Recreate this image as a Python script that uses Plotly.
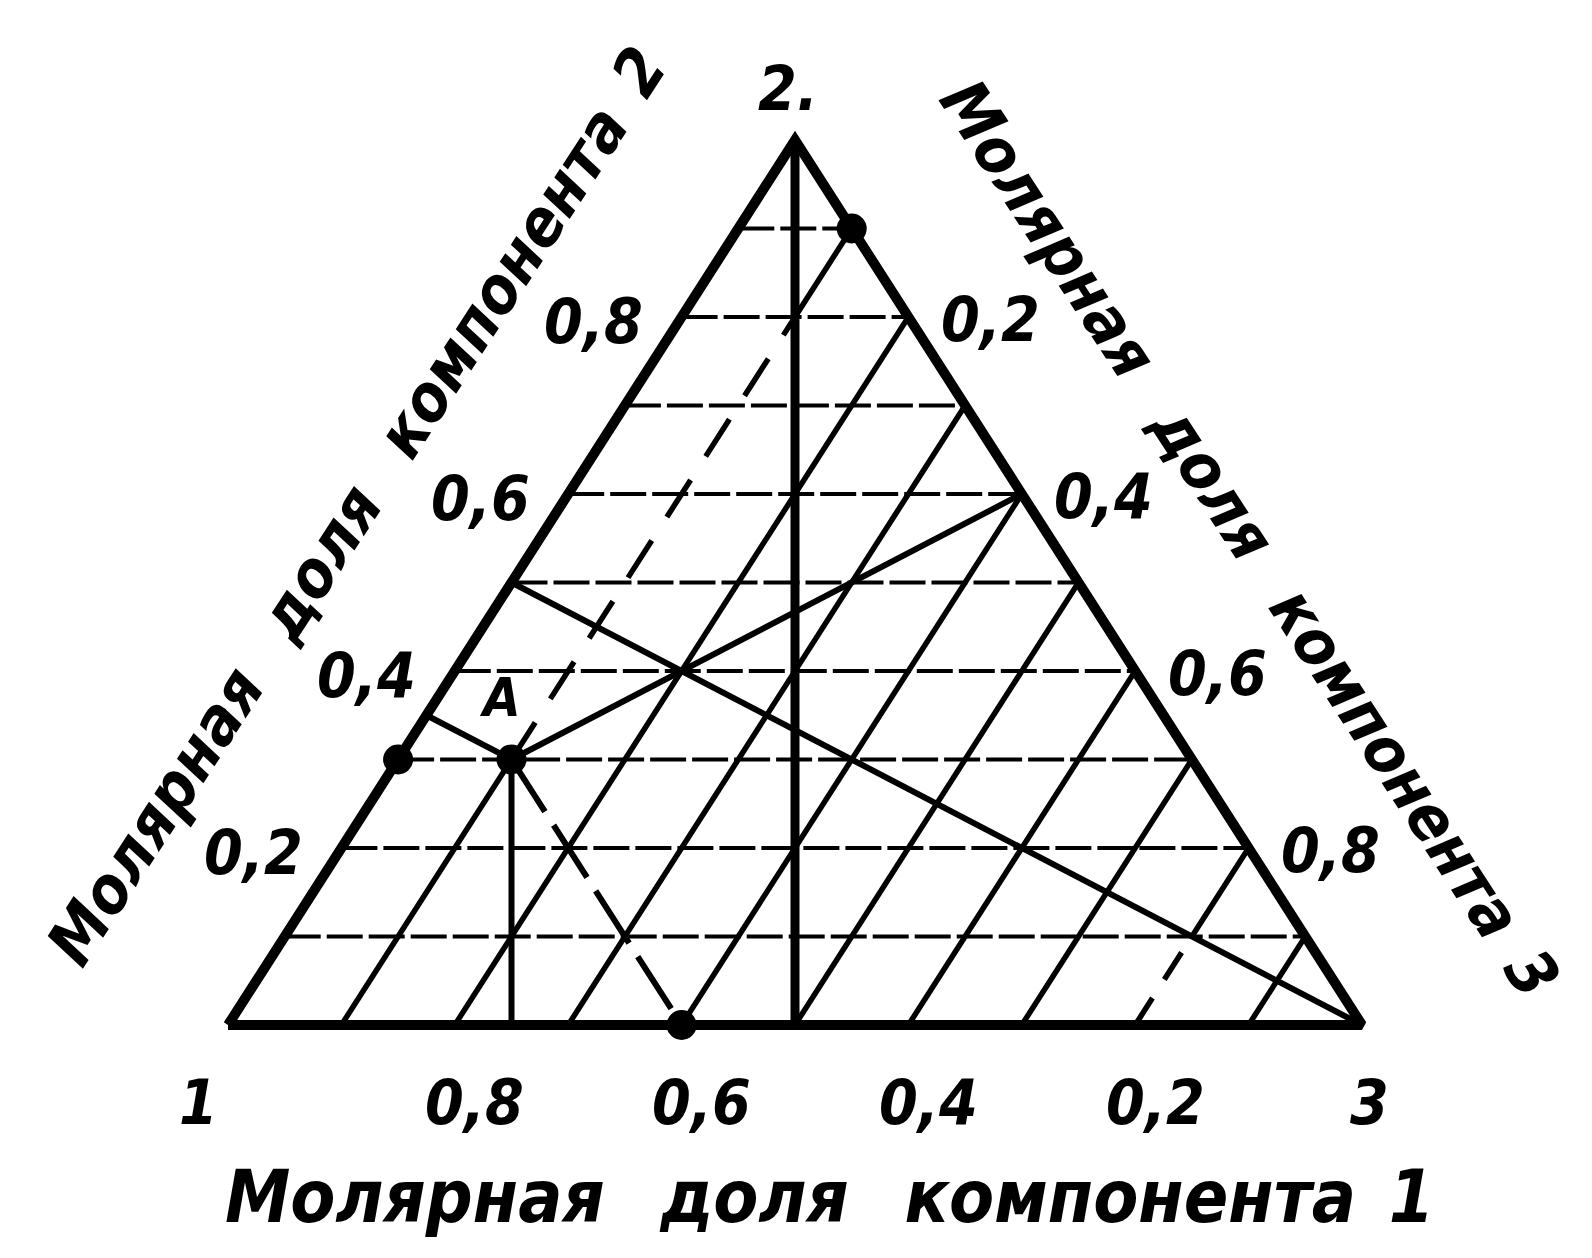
import plotly.graph_objects as go

# Compositions are molar fractions (x1, x2, x3) of components 1, 2, 3.
levels = [0.1, 0.2, 0.3, 0.4, 0.5, 0.6, 0.7, 0.8, 0.9]
tick_values = [0.2, 0.4, 0.6, 0.8]
tick_text = ["0,2", "0,4", "0,6", "0,8"]

vertices = [(1.0, 0.0, 0.0), (0.0, 1.0, 0.0), (0.0, 0.0, 1.0)]
vertex_names = ["1", "2.", "3"]

point_A = (0.6, 0.3, 0.1)
marked_points = [(0.7, 0.3, 0.0), (0.6, 0.3, 0.1), (0.6, 0.0, 0.4), (0.0, 0.9, 0.1)]
# perpendiculars dropped from A onto the three sides
feet_from_A = [(0.75, 0.0, 0.25), (0.65, 0.35, 0.0), (0.0, 0.6, 0.4)]
median_from_2 = [(0.0, 1.0, 0.0), (0.5, 0.0, 0.5)]
ray_from_3 = [(0.5, 0.5, 0.0), (0.0, 0.0, 1.0)]
x3_01_solid = [[(0.9, 0.0, 0.1), (0.6, 0.3, 0.1)], [(0.1, 0.8, 0.1), (0.0, 0.9, 0.1)]]
x3_01_dashed = [(0.6, 0.3, 0.1), (0.1, 0.8, 0.1)]
x3_08_dashed = [(0.2, 0.0, 0.8), (0.1, 0.1, 0.8)]
x3_08_solid = [(0.1, 0.1, 0.8), (0.0, 0.2, 0.8)]
x1_06_dashed = [(0.6, 0.3, 0.1), (0.6, 0.0, 0.4)]

title_words = ["Молярная", "доля", "компонента"]
component_ids = ["1", "2", "3"]

FONT = "DejaVu Sans Condensed, DejaVu Sans, sans-serif"
INK = "black"
WIDE_GAP = "\u2002\u00a0"
SHORT_GAP = "\u2002"


def xy(p):
    """Map a composition (x1, x2, x3) onto plane coordinates of the triangle."""
    x1, x2, x3 = p
    return x3 + 0.5 * x2, x2


fig = go.Figure()


def seg(points, width, dash="solid"):
    xs, ys = zip(*[xy(p) for p in points])
    fig.add_trace(go.Scatter(x=list(xs), y=list(ys), mode="lines",
                             line=dict(color=INK, width=width, dash=dash),
                             hoverinfo="skip", showlegend=False))


# horizontal grid lines: constant x2
for c in levels:
    seg([(1 - c, c, 0.0), (0.0, c, 1 - c)], 4, "36px,6px")

# inclined grid lines: constant x3
for c in levels:
    if c in (0.1, 0.8):
        continue
    seg([(1 - c, 0.0, c), (0.0, 1 - c, c)], 5.5)
for part in x3_01_solid:
    seg(part, 5.5)
seg(x3_01_dashed, 5.5, "44px,28px")
seg(x3_08_dashed, 5.5, "32px,22px")
seg(x3_08_solid, 5.5)

# constructions
seg(median_from_2, 9)
seg(ray_from_3, 6)
for f in feet_from_A:
    seg([point_A, f], 6)
seg(x1_06_dashed, 6, "62px,16px")

# triangle sides
seg(vertices + [vertices[0]], 10)

mx, my = zip(*[xy(p) for p in marked_points])
fig.add_trace(go.Scatter(x=list(mx), y=list(my), mode="markers",
                         marker=dict(color=INK, size=30),
                         hoverinfo="skip", showlegend=False))

ann = []
tick_font = dict(family=FONT, size=62, color=INK, style="italic", weight="bold")
for v, t in zip(tick_values, tick_text):
    bx, by = xy((v, 0.0, 1 - v))
    ann.append(dict(x=bx, y=by, text=t, xshift=20, yshift=-77, font=tick_font))
    lx, ly = xy((1 - v, v, 0.0))
    ann.append(dict(x=lx, y=ly, text=t, xshift=-88, yshift=-4, font=tick_font))
    rx, ry = xy((0.0, 1 - v, v))
    ann.append(dict(x=rx, y=ry, text=t, xshift=82, yshift=-2, font=tick_font))

vshift = [(-30, -77), (-7, 52), (7, -77)]
for p, name, (dx, dy) in zip(vertices, vertex_names, vshift):
    vx, vy = xy(p)
    ann.append(dict(x=vx, y=vy, text=name, xshift=dx, yshift=dy, font=tick_font))

ax_, ay_ = xy(point_A)
ann.append(dict(x=ax_, y=ay_, text="A", xshift=-12, yshift=62,
                font=dict(family=FONT, size=54, color=INK, style="italic",
                          weight="bold")))


def title(cid):
    return WIDE_GAP.join(title_words) + SHORT_GAP + cid


bottom_font = dict(family=FONT, size=73, color=INK, style="italic", weight="bold")
side_font = dict(family=FONT, size=65, color=INK, style="italic", weight="bold")
ann.append(dict(xref="paper", yref="paper", x=830 / 1592, y=1 - 1196 / 1258,
                text=title(component_ids[0]), textangle=0, font=bottom_font))
ann.append(dict(xref="paper", yref="paper", x=356 / 1592, y=1 - 506 / 1258,
                text=title(component_ids[1]), textangle=-57, font=side_font))
ann.append(dict(xref="paper", yref="paper", x=1250 / 1592, y=1 - 538 / 1258,
                text=title(component_ids[2]), textangle=57, font=side_font))

for a in ann:
    a.setdefault("xref", "x")
    a.setdefault("yref", "y")
    a["showarrow"] = False
    a["xanchor"] = "center"
    a["yanchor"] = "middle"

W, H = 1592, 1258
X0, XS = 228, 1134   # pixel of vertex 1 and base length
Y0, YS = 1025, 885   # pixel of base line and triangle height
fig.update_layout(
    width=W, height=H, autosize=False,
    margin=dict(l=0, r=0, t=0, b=0),
    paper_bgcolor="white", plot_bgcolor="white",
    annotations=ann,
    xaxis=dict(range=[-X0 / XS, (W - X0) / XS], visible=False, fixedrange=True),
    yaxis=dict(range=[(Y0 - H) / YS, Y0 / YS], visible=False, fixedrange=True),
)

fig.write_html("out.html")
